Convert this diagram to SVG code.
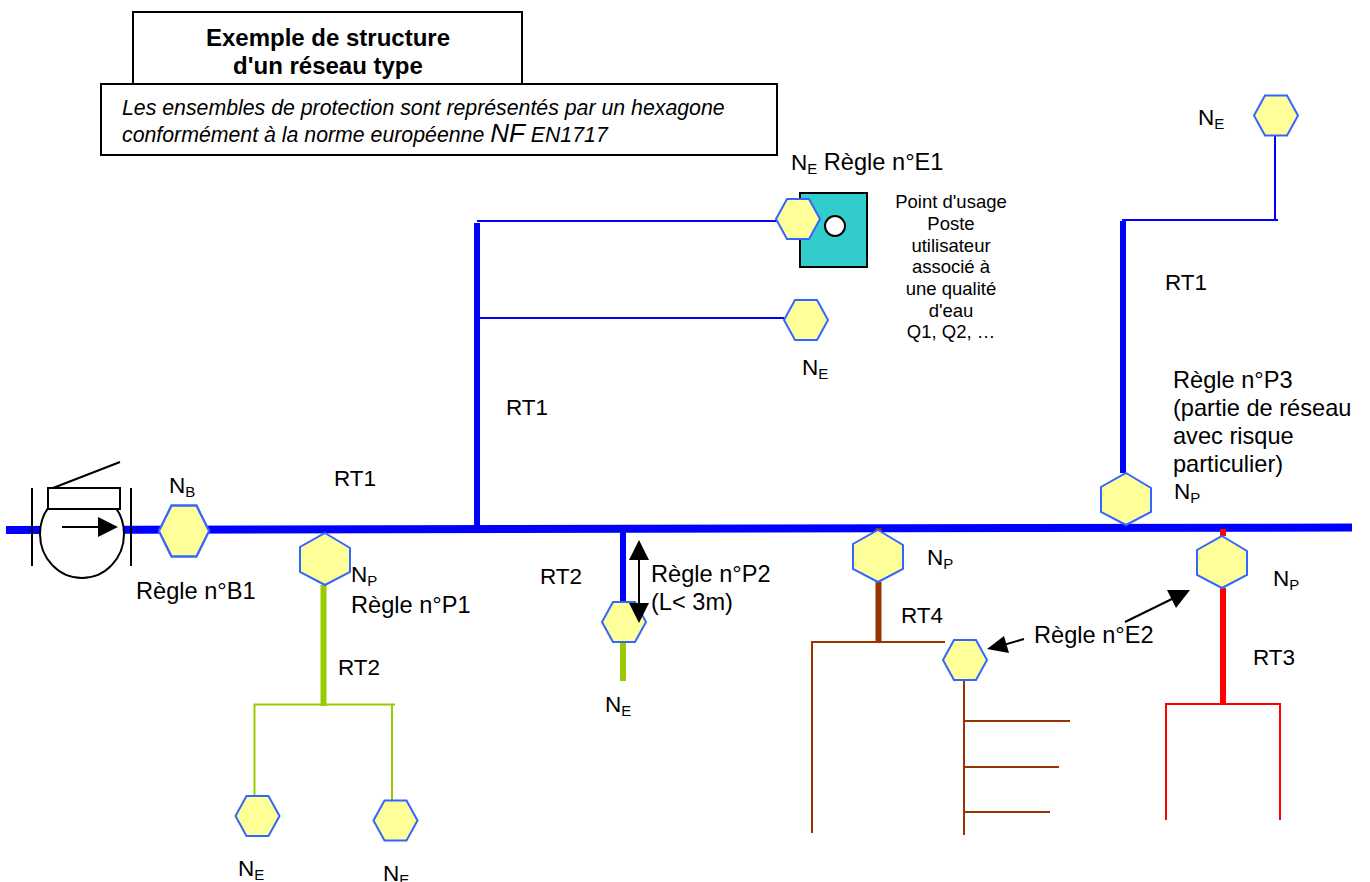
<svg xmlns="http://www.w3.org/2000/svg" width="1370" height="882" viewBox="0 0 1370 882">
<style>
text{font-family:"Liberation Sans",Arial,sans-serif;font-size:22.5px;fill:#000}
.u{font-size:23.6px}
.s{font-size:15px}
.sm{font-size:18.5px;text-anchor:middle}
.t{font-size:24px;font-weight:bold;text-anchor:middle}
.i{font-size:21.3px;font-style:italic}
.hex{fill:#ffff99;stroke:#3366ff;stroke-width:2}
.box{fill:#fff;stroke:#000;stroke-width:2}
.k{fill:none;stroke:#000;stroke-width:2}
.a{fill:#000;stroke:none}
.l{fill:none}
.b{stroke:#0000ff}.g{stroke:#99cc00}.r{stroke:#993300}.d{stroke:#ff0000}
.w6{stroke-width:6}.w2{stroke-width:2}
</style>
<defs>
<polygon id="fh" class="hex" points="-22,0 -11,-20 11,-20 22,0 11,20 -11,20"/>
<polygon id="ph" class="hex" points="0,-26 25,-11 25,13 0,26 -25,13 -25,-12"/>
</defs>
<g id="connectors" class="l">
<path class="b" stroke-width="8" d="M6 530L1352 527.5"/>
<path class="b w6" d="M477 223V528M1123 221V473M623 528V603"/>
<path class="b w2" d="M477 221H780M480 318H784M1122 220H1278M1275 135V220"/>
<path class="g w6" d="M623 642V681M323.500 585V706"/>
<path class="g w2" d="M254.500 796V704.500H395M392 704.500V801"/>
<path class="r w6" d="M878.500 528V531M878.500 582V642"/>
<path class="r w2" d="M812 833V642H945M964 679V835M964 721H1070M964 767H1059M964 812H1050"/>
<path class="d w6" d="M1223 529V536M1223 588V704"/>
<path class="d w2" d="M1166 820V704H1280V820"/>
</g>
<g id="pump">
<ellipse cx="82" cy="534" rx="42" ry="44" fill="#fff" stroke="#000" stroke-width="2"/>
<rect class="box" x="48" y="488" width="72" height="21"/>
<path class="k" d="M32 488V566M131 488V566M53 488L120 462M62 527H100"/>
<polygon class="a" points="98,517 118,527 98,537"/>
</g>
<g id="title"><rect class="box" x="133" y="12" width="389" height="80"/>
<text class="t" x="328" y="46">Exemple de structure</text>
<text class="t" x="328" y="74">d'un réseau type</text></g>
<g id="note"><rect class="box" x="101" y="84" width="676" height="71"/>
<text class="i" x="122" y="115">Les ensembles de protection sont représentés par un hexagone</text>
<text class="i" x="122" y="142">conformément à la norme européenne <tspan font-size="26">NF</tspan> EN1717</text></g>
<g id="usage"><rect class="box" x="800" y="193" width="67" height="74" style="fill:#33cccc"/>
<circle cx="835" cy="226" r="10" fill="#fff" stroke="#000" stroke-width="2"/>
<text class="sm"><tspan x="951" y="208">Point d'usage</tspan><tspan x="951" y="230">Poste</tspan><tspan x="951" y="252">utilisateur</tspan><tspan x="951" y="273">associé à</tspan><tspan x="951" y="295">une qualité</tspan><tspan x="951" y="317">d'eau</tspan><tspan x="951" y="338">Q1, Q2, …</tspan></text></g>
<g id="nb"><use href="#fh" x="184" y="531" transform="translate(184,531) scale(1.14,1.27) translate(-184,-531)"/>
<text x="169" y="493">N<tspan class="s" dy="4">B</tspan></text>
<text class="u" x="136" y="599">Règle n°B1</text></g>
<g id="np1"><use href="#ph" x="325" y="559"/><text x="351" y="582">N<tspan class="s" dy="4">P</tspan></text><text class="u" x="351" y="613">Règle n°P1</text></g>
<g id="ne-p2"><use href="#fh" x="624" y="622"/><text x="605" y="712">N<tspan class="s" dy="4">E</tspan></text><text class="u" x="651" y="582">Règle n°P2</text><text class="u" x="651" y="610">(L&lt; 3m)</text></g>
<g id="np4"><use href="#ph" x="878" y="556"/><text x="927" y="565">N<tspan class="s" dy="4">P</tspan></text></g>
<g id="ne4"><use href="#fh" x="965" y="660"/><text class="u" x="1034" y="643">Règle n°E2</text></g>
<g id="np3"><use href="#ph" x="1222" y="562"/><text x="1273" y="586">N<tspan class="s" dy="4">P</tspan></text></g>
<g id="npp3"><use href="#ph" x="1126" y="499"/><text x="1174" y="499">N<tspan class="s" dy="4">P</tspan></text>
<text class="u"><tspan x="1173" y="388">Règle n°P3</tspan><tspan x="1173" y="416">(partie de réseau</tspan><tspan x="1173" y="444">avec risque</tspan><tspan x="1173" y="472">particulier)</tspan></text></g>
<g id="ne-e1"><use href="#fh" x="798" y="219"/><text x="791" y="170">N<tspan class="s" dy="4">E</tspan><tspan class="u" dy="-4"> Règle n°E1</tspan></text></g>
<g id="ne-b"><use href="#fh" x="806" y="320"/><text x="802" y="375">N<tspan class="s" dy="4">E</tspan></text></g>
<g id="ne-top"><use href="#fh" x="1276" y="115.500"/><text x="1198" y="125">N<tspan class="s" dy="4">E</tspan></text></g>
<g id="ne-l"><use href="#fh" x="257.500" y="816"/><text x="238" y="876">N<tspan class="s" dy="4">E</tspan></text></g>
<g id="ne-r"><use href="#fh" x="395.500" y="820.500"/><text x="383" y="881">N<tspan class="s" dy="4">E</tspan></text></g>
<g id="labels">
<text x="334" y="486">RT1</text><text x="506" y="415">RT1</text><text x="1165" y="290">RT1</text>
<text x="338" y="675">RT2</text><text x="540" y="584">RT2</text>
<text x="1253" y="665">RT3</text><text x="901" y="623">RT4</text>
</g>
<g id="arrows">
<path class="k" d="M639 555V610M1125 622L1178 596M1024 639L1000 646"/>
<polygon class="a" points="639,540 629,560 649,560"/>
<polygon class="a" points="639,623 629,603 649,603"/>
<polygon class="a" points="1190,590 1167,590 1176,608"/>
<polygon class="a" points="987,649 1004,636 1009,653"/>
</g>
</svg>
